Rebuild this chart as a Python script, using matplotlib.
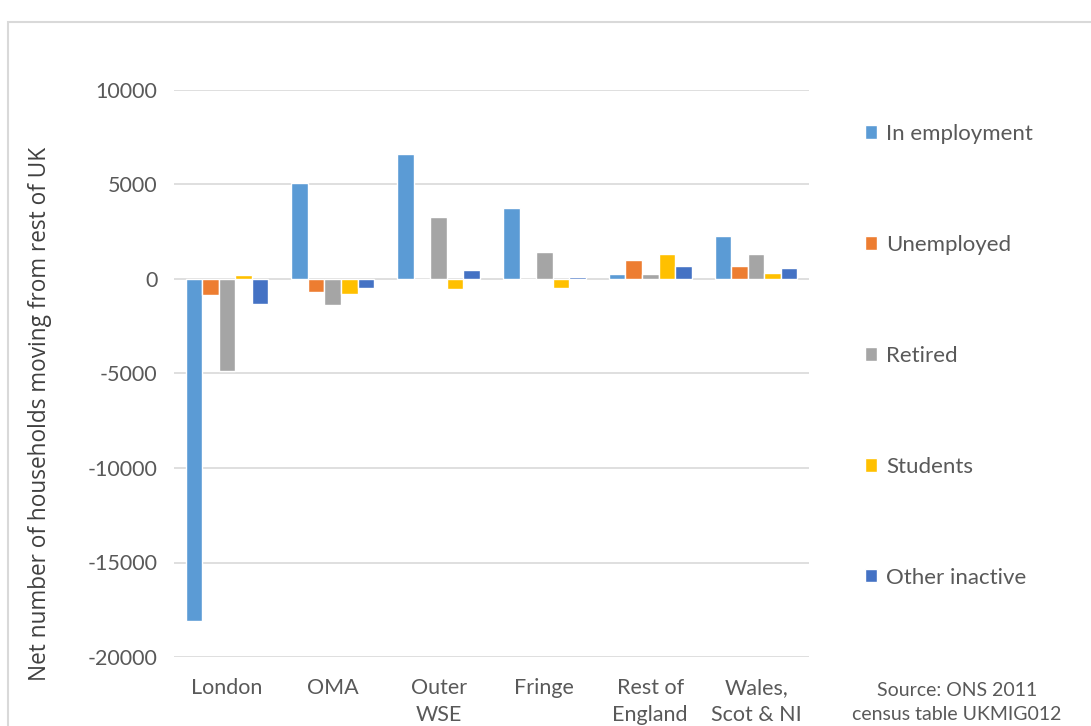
import matplotlib
matplotlib.use("Agg")
import matplotlib.pyplot as plt
import numpy as np
from matplotlib.patches import Rectangle

categories = ["London", "OMA", "Outer\nWSE", "Fringe", "Rest of\nEngland", "Wales,\nScot & NI"]
series_names = ["In employment", "Unemployed", "Retired", "Students", "Other inactive"]
in_employment = [-18100, 5090, 6640, 3760, 290, 2300]
unemployed = [-870, -680, 0, 0, 980, 700]
retired = [-4880, -1400, 3290, 1440, 290, 1300]
students = [220, -800, -520, -470, 1300, 340]
other_inactive = [-1330, -470, 500, 90, 700, 560]
yticks = [-20000, -15000, -10000, -5000, 0, 5000, 10000]
colors = ["#5B9BD5", "#ED7D31", "#A5A5A5", "#FFC000", "#4472C4"]

series = [in_employment, unemployed, retired, students, other_inactive]

W, H = 1091, 726
fig = plt.figure(figsize=(W / 100, H / 100), dpi=100)
fig.patches.append(Rectangle((8 / W, -0.1), 1.2, 1 - 22 / H + 0.1, transform=fig.transFigure,
                             fill=False, edgecolor="#d9d9d9", linewidth=1.5))
ax = fig.add_axes([174 / W, 1 - 657 / H, (809 - 174) / W, (657 - 90) / H])

font = "Lato"
x = np.arange(len(categories))
pitch = 0.156
for i, (vals, c, name) in enumerate(zip(series, colors, series_names)):
    ax.bar(x + (i - 2) * pitch, vals, width=pitch, color=c, edgecolor="white",
           linewidth=1.0, label=name, zorder=3)

ax.set_xlim(-0.5, len(categories) - 0.5)
ax.set_ylim(-20000, 10000)
ax.set_yticks(yticks)
ax.set_yticklabels([str(v) for v in yticks], fontsize=15.5, color="#595959", family=font)
ax.set_xticks(x)
ax.set_xticklabels(categories, fontsize=15.5, color="#595959", family=font, linespacing=1.45, va="top")
ax.tick_params(axis="both", length=0)
ax.tick_params(axis="y", pad=12)
ax.tick_params(axis="x", pad=15)
ax.grid(axis="y", color="#d9d9d9", linewidth=1.2, zorder=0)
for s in ax.spines.values():
    s.set_visible(False)

ax.set_ylabel("Net number of households moving from rest of UK", fontsize=16.3,
              color="#404040", family="Open Sans")
ax.yaxis.set_label_coords((52 - 174) / 635, (657 - 414) / 567)

leg = fig.legend(loc="upper left", bbox_to_anchor=(865 / W, 1 - 124 / H), frameon=False,
                 prop={"family": font, "size": 16}, labelspacing=4.09, borderpad=0,
                 borderaxespad=0, handlelength=0.55, handleheight=0.55, handletextpad=0.4,
                 labelcolor="#595959")

fig.text(957 / W, 1 - 703 / H, "Source: ONS 2011\ncensus table UKMIG012", ha="center", va="center",
         fontsize=14, color="#595959", family=font, linespacing=1.5)

fig.savefig("out.png", dpi=100)
